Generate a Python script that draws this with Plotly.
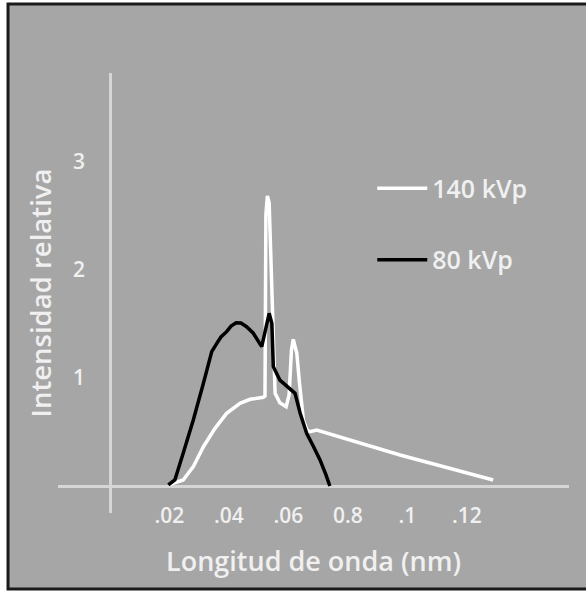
import plotly.graph_objects as go

# 80 kVp spectrum (black)
x80 = [0.0196, 0.0218, 0.0246, 0.0280, 0.0314, 0.0342, 0.0359, 0.0373, 0.0392, 0.0407,
       0.0424, 0.0440, 0.0459, 0.0481, 0.0510, 0.0535, 0.0544, 0.0549, 0.0571, 0.0605,
       0.0622, 0.0639, 0.0661, 0.0683, 0.0706, 0.0726, 0.0739]
y80 = [0.01, 0.056, 0.303, 0.611, 0.951, 1.244, 1.321, 1.380, 1.429, 1.481,
       1.512, 1.509, 1.475, 1.417, 1.290, 1.599, 1.506, 1.105, 0.981, 0.905,
       0.858, 0.676, 0.488, 0.370, 0.241, 0.102, 0.0]

# 140 kVp spectrum (white)
x140 = [0.0196, 0.0246, 0.0280, 0.0314, 0.0353, 0.0392, 0.0437, 0.0471, 0.0515, 0.0521,
        0.0524, 0.0529, 0.0535, 0.0545, 0.0555, 0.0571, 0.0592, 0.0602, 0.0610, 0.0616,
        0.0628, 0.0636, 0.0650, 0.0662, 0.0672, 0.0695, 0.0975, 0.1288]
y140 = [0.01, 0.056, 0.179, 0.364, 0.534, 0.673, 0.766, 0.803, 0.821, 0.833,
        2.509, 2.685, 2.620, 1.722, 0.858, 0.771, 0.734, 0.843, 1.259, 1.358,
        1.229, 0.981, 0.611, 0.519, 0.503, 0.519, 0.287, 0.056]

xtick_vals = [0.02, 0.04, 0.06, 0.08, 0.10, 0.12]
xtick_text = [".02", ".04", ".06", "0.8", ".1", ".12"]
ytick_vals = [1, 2, 3]
ytick_text = ["1", "2", "3"]

BG = "#a6a6a6"
TXT = "#f0f0f0"
AX = "#d6d6d6"
FONT = "Open Sans"
W = 600

fig = go.Figure()
fig.add_trace(go.Scatter(x=x140, y=y140, mode="lines", name="140 kVp",
                         legendgroup="a",
                         line=dict(color="#ffffff", width=3.5)))
fig.add_trace(go.Scatter(x=x80, y=y80, mode="lines", name="80 kVp",
                         legendgroup="b",
                         line=dict(color="#000000", width=3.5)))

fig.update_layout(
    width=586, height=591,
    margin=dict(l=58, r=17, t=73, b=78),
    paper_bgcolor="#ffffff",
    plot_bgcolor="rgba(0,0,0,0)",
    font=dict(family=FONT, color=TXT, weight=W),
    showlegend=True,
    legend=dict(x=0.615, y=0.79, xanchor="left", yanchor="top",
                bgcolor="rgba(0,0,0,0)", borderwidth=0,
                font=dict(size=25, color=TXT, family=FONT, weight=W),
                traceorder="grouped", tracegroupgap=36, itemwidth=50),
    shapes=[dict(type="rect", xref="paper", yref="paper",
                 x0=-0.0978, x1=1.08, y0=-0.1727, y1=1.157,
                 line=dict(color="#1a1a1a", width=3), fillcolor=BG, layer="below")],
)

fig.update_xaxes(range=[-0.01748, 0.15429], showgrid=False, showline=False,
                 zeroline=True, zerolinecolor=AX, zerolinewidth=3,
                 tickvals=xtick_vals, ticktext=xtick_text, ticks="",
                 tickfont=dict(size=21, color=TXT, family=FONT, weight=W),
                 ticklabelstandoff=-12, automargin=False,
                 title=dict(text="Longitud de onda (nm)", standoff=24,
                            font=dict(size=27, color=TXT, family=FONT, weight=W)))
fig.update_yaxes(range=[-0.25, 3.824], showgrid=False, showline=False,
                 zeroline=True, zerolinecolor=AX, zerolinewidth=3,
                 tickvals=ytick_vals, ticktext=ytick_text, ticks="",
                 ticklabelposition="inside", ticklabelstandoff=12,
                 tickfont=dict(size=21, color=TXT, family=FONT, weight=W),
                 automargin=False,
                 title=dict(text="Intensidad relativa", standoff=13,
                            font=dict(size=27.5, color=TXT, family=FONT, weight=W)))

fig.write_html("out.html")
